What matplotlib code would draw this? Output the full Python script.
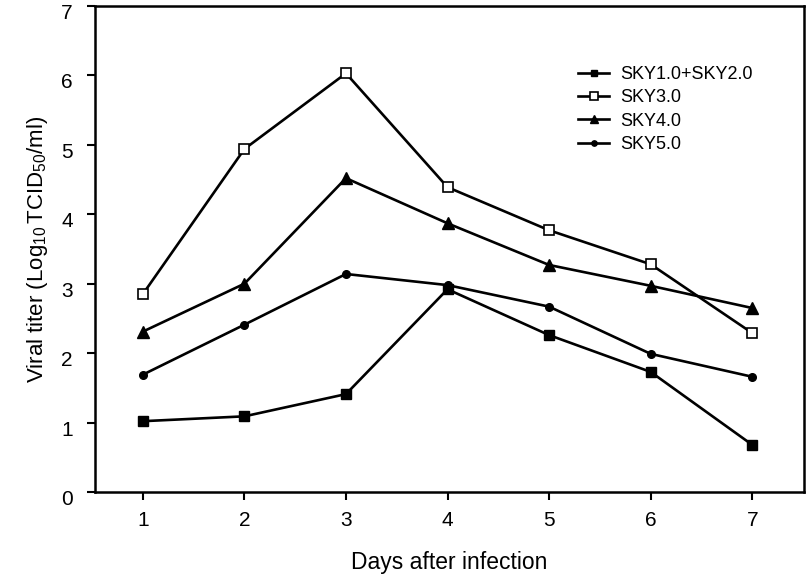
import matplotlib
matplotlib.use("Agg")
import matplotlib.pyplot as plt
from matplotlib.transforms import ScaledTranslation

plt.rcParams['font.family'] = ['Liberation Sans', 'DejaVu Sans']
plt.rcParams['mathtext.fontset'] = 'custom'
plt.rcParams['mathtext.rm'] = 'Liberation Sans'
plt.rcParams['mathtext.it'] = 'Liberation Sans:italic'
plt.rcParams['mathtext.bf'] = 'Liberation Sans:bold'

days = [1, 2, 3, 4, 5, 6, 7]
sky12 = [1.02, 1.09, 1.41, 2.92, 2.26, 1.73, 0.68]
sky3 = [2.85, 4.94, 6.03, 4.39, 3.77, 3.28, 2.29]
sky4 = [2.31, 3.00, 4.52, 3.87, 3.27, 2.97, 2.65]
sky5 = [1.69, 2.41, 3.14, 2.98, 2.67, 1.99, 1.66]
labels = ["SKY1.0+SKY2.0", "SKY3.0", "SKY4.0", "SKY5.0"]
yticks = [0, 1, 2, 3, 4, 5, 6, 7]

fig = plt.figure(figsize=(8.06, 5.8), dpi=100)
ax = fig.add_axes([0.118, 0.1517, 0.8795, 0.838])

lw = 1.9
ax.plot(days, sky12, color='black', lw=lw, marker='s', ms=7, mfc='black', mec='black', label=labels[0])
ax.plot(days, sky3, color='black', lw=lw, marker='s', ms=7.5, mfc='white', mec='black', mew=1.2, label=labels[1])
ax.plot(days, sky4, color='black', lw=lw, marker='^', ms=8, mfc='black', mec='black', label=labels[2])
ax.plot(days, sky5, color='black', lw=lw, marker='o', ms=5.5, mfc='black', mec='black', label=labels[3])

ax.set_xlim(0.53, 7.51)
ax.set_ylim(0, 7)
ax.set_xticks(days)
ax.set_yticks(yticks)
ax.tick_params(axis='both', direction='out', length=6, width=1.5, labelsize=15)
ax.tick_params(axis='y', pad=10)
ax.tick_params(axis='x', pad=8)
for s in ax.spines.values():
    s.set_linewidth(1.8)

off = ScaledTranslation(0, -4 / 72, fig.dpi_scale_trans)
for lab in ax.get_yticklabels():
    lab.set_transform(lab.get_transform() + off)

ax.set_xlabel("Days after infection", fontsize=16.5, labelpad=15)
ax.set_ylabel("Viral titer (Log$_{10}$$\\,$TCID$_{50}$/ml)", fontsize=16, labelpad=8)

leg = ax.legend(loc='upper left', bbox_to_anchor=(0.658, 0.91), frameon=False, fontsize=13,
                handlelength=1.75, handletextpad=0.6, labelspacing=0.35, markerscale=0.7)

fig.savefig("out.png", dpi=100)
